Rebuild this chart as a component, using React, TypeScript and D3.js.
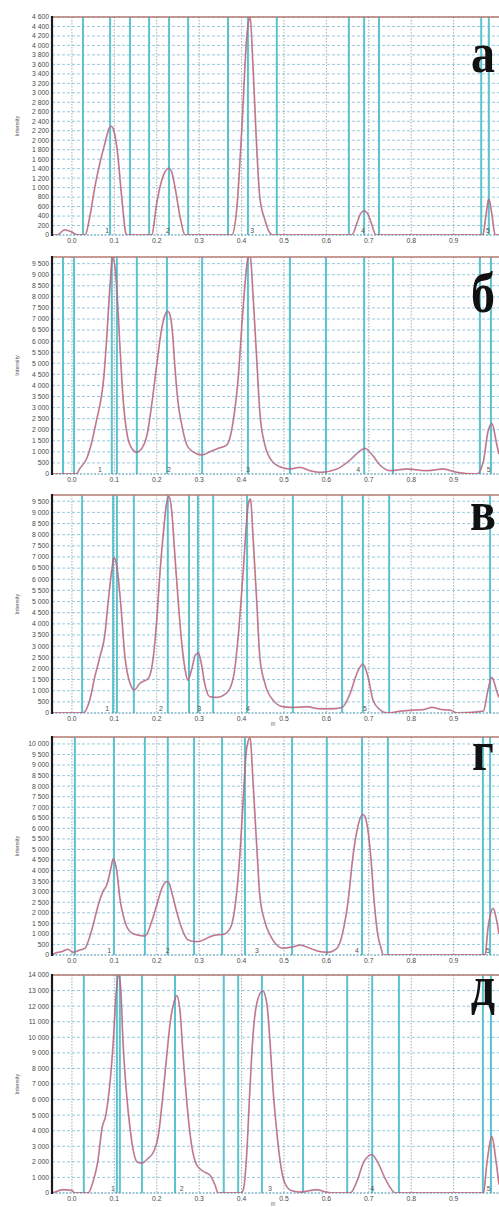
import React, { useEffect, useRef } from "react";
import * as d3 from "d3";

const WIDTH = 499;
const HEIGHT = 1207;

// Rf tick labels along the bottom of every panel
const rfTicks = [0, 0.1, 0.2, 0.3, 0.4, 0.5, 0.6, 0.7, 0.8, 0.9];
const panelLetters = ["а", "б", "в", "г", "д"];

// intensity axes
const yMaxes = [4600, 9800, 9780, 10330, 14000];
const yTickMax = [4600, 9500, 9500, 10000, 14000];
const yTickStep = [200, 500, 500, 500, 1000];

// densitogram traces, [Rf, intensity]
const curveA: [number, number][] = [
  [-0.047, 0], [-0.035, 0], [-0.017, 110], [0.0, 60], [0.014, 0], [0.031, 0],
  [0.042, 380], [0.054, 1010], [0.066, 1520], [0.078, 1940], [0.085, 2180],
  [0.089, 2270], [0.093, 2290], [0.097, 2250], [0.101, 2120], [0.106, 1850],
  [0.118, 740], [0.127, 40], [0.13, 0], [0.188, 0], [0.2, 675], [0.212, 1160],
  [0.222, 1370], [0.228, 1410], [0.234, 1360], [0.243, 1010], [0.255, 380],
  [0.267, 0], [0.377, 0], [0.389, 590], [0.4, 2150], [0.413, 4260], [0.42, 4600],
  [0.427, 3550], [0.436, 1790], [0.443, 800], [0.455, 320], [0.467, 40],
  [0.474, 0], [0.66, 0], [0.672, 250], [0.68, 440], [0.689, 510], [0.698, 440],
  [0.706, 250], [0.717, 0], [0.969, 0], [0.976, 400], [0.983, 760], [0.99, 450],
  [0.998, 0], [1.007, 0],
];

const curveB: [number, number][] = [
  [-0.047, 0], [0.01, 0], [0.019, 258], [0.035, 710], [0.047, 1460], [0.059, 2510],
  [0.066, 3120], [0.075, 4330], [0.082, 6140], [0.09, 8550], [0.096, 9800],
  [0.104, 8860], [0.113, 5830], [0.12, 3570], [0.129, 1910], [0.141, 1160],
  [0.153, 980], [0.165, 1160], [0.177, 1760], [0.188, 3120], [0.2, 4930],
  [0.212, 6600], [0.221, 7250], [0.226, 7340], [0.231, 7200], [0.237, 6400],
  [0.243, 4790], [0.25, 3270], [0.259, 2220], [0.271, 1310], [0.285, 1010],
  [0.306, 860], [0.326, 1010], [0.345, 1160], [0.365, 1310], [0.38, 2360],
  [0.392, 4330], [0.403, 7340], [0.415, 9740], [0.42, 9900], [0.427, 8100],
  [0.436, 5080], [0.443, 2820], [0.455, 1310], [0.467, 710], [0.49, 330],
  [0.514, 226], [0.538, 300], [0.561, 150], [0.585, 75], [0.625, 226],
  [0.656, 635], [0.679, 1040], [0.691, 1160], [0.708, 860], [0.726, 410],
  [0.75, 150], [0.79, 226], [0.837, 150], [0.875, 226], [0.908, 75], [0.955, 0],
  [0.97, 560], [0.981, 1910], [0.99, 2280], [1.002, 1310], [1.007, 900],
];

const curveC: [number, number][] = [
  [-0.047, 0], [0.026, 0], [0.042, 580], [0.054, 1630], [0.066, 2520], [0.078, 3570],
  [0.085, 4910], [0.094, 6400], [0.099, 6970], [0.106, 6560], [0.115, 4910],
  [0.125, 2520], [0.137, 1330], [0.147, 1030], [0.16, 1330], [0.18, 1550],
  [0.192, 2520], [0.2, 4170], [0.208, 6400], [0.217, 8350], [0.223, 9390],
  [0.229, 9720], [0.235, 9100], [0.243, 7000], [0.251, 4910], [0.259, 3120],
  [0.267, 1930], [0.273, 1480], [0.282, 1930], [0.291, 2600], [0.298, 2700],
  [0.305, 2230], [0.313, 1330], [0.325, 730], [0.341, 700], [0.365, 900],
  [0.381, 1630], [0.392, 3420], [0.404, 6400], [0.416, 9390], [0.421, 9600],
  [0.427, 7900], [0.436, 4910], [0.443, 2520], [0.455, 1330], [0.474, 580],
  [0.498, 280], [0.521, 250], [0.554, 280], [0.585, 190], [0.616, 190],
  [0.637, 250], [0.656, 880], [0.672, 1780], [0.686, 2190], [0.698, 1630],
  [0.71, 580], [0.726, 150], [0.743, 0], [0.774, 80], [0.804, 130], [0.828, 150],
  [0.849, 250], [0.873, 150], [0.892, 130], [0.908, 0], [0.97, 80], [0.981, 1030],
  [0.99, 1600], [1.002, 960], [1.007, 700],
];

const curveD: [number, number][] = [
  [-0.047, 0], [-0.04, 80], [-0.024, 160], [-0.009, 270], [0.002, 130], [0.019, 240],
  [0.031, 320], [0.038, 630], [0.05, 1420], [0.061, 2290], [0.073, 3000],
  [0.082, 3320], [0.092, 4110], [0.097, 4550], [0.106, 3950], [0.113, 2690],
  [0.125, 1580], [0.137, 1110], [0.153, 950], [0.172, 900], [0.188, 1580],
  [0.2, 2370], [0.212, 3160], [0.219, 3420], [0.224, 3480], [0.229, 3400],
  [0.235, 3000], [0.247, 2050], [0.259, 1260], [0.274, 710], [0.294, 630],
  [0.31, 710], [0.326, 870], [0.341, 950], [0.357, 980], [0.373, 1260],
  [0.384, 2210], [0.396, 4740], [0.404, 7420], [0.412, 9790], [0.42, 10300],
  [0.427, 8210], [0.436, 5060], [0.443, 2840], [0.455, 1580], [0.467, 950],
  [0.483, 470], [0.498, 320], [0.521, 390], [0.538, 470], [0.561, 320],
  [0.585, 160], [0.604, 130], [0.625, 320], [0.639, 1110], [0.651, 2530],
  [0.663, 4740], [0.675, 6160], [0.682, 6580], [0.686, 6660], [0.691, 6560],
  [0.696, 6160], [0.705, 4580], [0.712, 2690], [0.72, 1110], [0.729, 320],
  [0.734, 0], [0.974, 0], [0.981, 1260], [0.993, 2210], [1.002, 1580], [1.007, 1000],
];

const curveE: [number, number][] = [
  [-0.047, 0], [-0.04, 60], [-0.021, 210], [0.0, 170], [0.007, 0], [0.038, 0],
  [0.05, 750], [0.061, 2030], [0.071, 4170], [0.08, 5020], [0.09, 7160],
  [0.097, 9510], [0.104, 12720], [0.11, 13960], [0.115, 13150], [0.12, 9940],
  [0.129, 6310], [0.137, 4170], [0.145, 2670], [0.154, 1990], [0.165, 1920],
  [0.18, 2240], [0.193, 2670], [0.204, 3740], [0.213, 5880], [0.223, 8660],
  [0.232, 11010], [0.241, 12290], [0.247, 12680], [0.255, 11650], [0.262, 8870],
  [0.27, 6100], [0.282, 3100], [0.294, 1810], [0.31, 1390], [0.326, 1130],
  [0.337, 540], [0.345, 0], [0.398, 0], [0.404, 200], [0.412, 2460], [0.419, 6310],
  [0.427, 10150], [0.439, 12510], [0.45, 12980], [0.46, 12080], [0.467, 9730],
  [0.474, 6730], [0.483, 3950], [0.491, 2030], [0.502, 640], [0.518, 150],
  [0.538, 60], [0.577, 210], [0.6, 60], [0.616, 0], [0.656, 0], [0.672, 750],
  [0.687, 1920], [0.707, 2460], [0.722, 1920], [0.738, 960], [0.754, 210],
  [0.762, 0], [0.97, 0], [0.979, 2030], [0.99, 3630], [1.0, 2030], [1.007, 540],
];

// zone boundaries / peak marks (teal verticals), Rf
const zonesA = [0.026, 0.09, 0.137, 0.182, 0.229, 0.274, 0.368, 0.415, 0.483, 0.653, 0.689, 0.724, 0.965, 0.983];
const zonesB = [-0.021, 0.005, 0.094, 0.106, 0.153, 0.224, 0.307, 0.415, 0.514, 0.599, 0.689, 0.757, 0.962, 0.988];
const zonesC = [0.024, 0.097, 0.106, 0.146, 0.226, 0.276, 0.297, 0.333, 0.413, 0.521, 0.637, 0.686, 0.748, 0.986];
const zonesD = [0.007, 0.099, 0.172, 0.226, 0.288, 0.354, 0.408, 0.519, 0.601, 0.684, 0.745, 0.969, 0.986];
const zonesE = [0.028, 0.106, 0.113, 0.165, 0.243, 0.358, 0.392, 0.448, 0.545, 0.649, 0.708, 0.771, 0.969, 0.988];

// Rf where the spot numbers 1..5 sit
const peaksA = [0.083, 0.226, 0.425, 0.686, 0.981];
const peaksB = [0.066, 0.229, 0.415, 0.675, 0.983];
const peaksC = [0.083, 0.21, 0.3, 0.415, 0.691];
const peaksD = [0.088, 0.226, 0.436, 0.672, 0.981];
const peaksE = [0.097, 0.259, 0.467, 0.708, 0.983];

const curves = [curveA, curveB, curveC, curveD, curveE];
const zones = [zonesA, zonesB, zonesC, zonesD, zonesE];
const peaks = [peaksA, peaksB, peaksC, peaksD, peaksE];

// layout
const tops = [17, 257, 495, 737, 975];
const bottoms = [235, 474, 713, 955, 1193];
const letterBase = [72, 312, 530, 770, 1005];
const showRf = [false, false, true, false, true];
const LEFT = 52;

export default function App() {
  const ref = useRef<SVGSVGElement>(null);

  useEffect(() => {
    const svg = d3.select(ref.current);
    svg.selectAll("*").remove();

    const x = d3.scaleLinear().domain([-0.047, 1.007]).range([LEFT, WIDTH]);
    const fmt = d3
      .formatLocale({ decimal: ".", thousands: " ", grouping: [3], currency: ["", ""] })
      .format(",d");
    const font = "Liberation Sans, Arial, sans-serif";

    curves.forEach((data, i) => {
      const top = tops[i];
      const bottom = bottoms[i];
      const y = d3.scaleLinear().domain([0, yMaxes[i]]).range([bottom, top]);
      const g = svg.append("g");

      g.append("clipPath")
        .attr("id", "clip" + i)
        .append("rect")
        .attr("x", LEFT)
        .attr("y", top)
        .attr("width", WIDTH - LEFT)
        .attr("height", bottom - top);

      const yTicks = d3.range(0, yTickMax[i] + 1, yTickStep[i]);

      // horizontal dashed grid
      g.append("g")
        .selectAll("line")
        .data(yTicks.slice(1))
        .join("line")
        .attr("x1", LEFT)
        .attr("x2", WIDTH)
        .attr("y1", (d) => y(d))
        .attr("y2", (d) => y(d))
        .attr("stroke", "#7dbcd6")
        .attr("stroke-width", 0.8)
        .attr("stroke-dasharray", "3,2");

      // vertical dotted grid at Rf ticks
      g.append("g")
        .selectAll("line")
        .data(rfTicks)
        .join("line")
        .attr("x1", (d) => x(d))
        .attr("x2", (d) => x(d))
        .attr("y1", top)
        .attr("y2", bottom)
        .attr("stroke", "#8a9aa8")
        .attr("stroke-width", 0.8)
        .attr("stroke-dasharray", "1.5,1.5");

      // zone lines
      g.append("g")
        .selectAll("line")
        .data(zones[i])
        .join("line")
        .attr("x1", (d) => x(d))
        .attr("x2", (d) => x(d))
        .attr("y1", top)
        .attr("y2", bottom)
        .attr("stroke", "#5cc3ce")
        .attr("stroke-width", 2);

      // bottom axis line
      g.append("line")
        .attr("x1", LEFT)
        .attr("x2", WIDTH)
        .attr("y1", bottom)
        .attr("y2", bottom)
        .attr("stroke", "#3a8fa8")
        .attr("stroke-width", 1)
        .attr("stroke-dasharray", "2,1.5");

      const line = d3
        .line<[number, number]>()
        .x((d) => x(d[0]))
        .y((d) => y(d[1]))
        .curve(d3.curveMonotoneX);

      const cg = g.append("g").attr("clip-path", `url(#clip${i})`);
      cg.append("path")
        .attr("d", line(data))
        .attr("fill", "none")
        .attr("stroke", "#7a7ab8")
        .attr("stroke-width", 1.8)
        .attr("stroke-opacity", 0.6);
      cg.append("path")
        .attr("d", line(data))
        .attr("fill", "none")
        .attr("stroke", "#e25a5c")
        .attr("stroke-width", 0.9);

      // frame: top border and left axis
      g.append("line")
        .attr("x1", LEFT)
        .attr("x2", WIDTH)
        .attr("y1", top)
        .attr("y2", top)
        .attr("stroke", "#b57a72")
        .attr("stroke-width", 1.5);
      g.append("line")
        .attr("x1", LEFT)
        .attr("x2", LEFT)
        .attr("y1", top - 1)
        .attr("y2", bottom + 1)
        .attr("stroke", "#1a1a1a")
        .attr("stroke-width", 2.2);

      // y labels
      g.append("g")
        .selectAll("text")
        .data(yTicks)
        .join("text")
        .attr("x", LEFT - 3)
        .attr("y", (d) => y(d))
        .attr("dy", "0.35em")
        .attr("text-anchor", "end")
        .attr("font-family", font)
        .attr("font-size", 6.8)
        .attr("fill", "#4a4a4a")
        .text((d) => fmt(d));

      // x labels
      g.append("g")
        .selectAll("text")
        .data(rfTicks)
        .join("text")
        .attr("x", (d) => x(d))
        .attr("y", bottom + 8)
        .attr("text-anchor", "middle")
        .attr("font-family", font)
        .attr("font-size", 6.8)
        .attr("fill", "#4a4a4a")
        .text((d) => d.toFixed(1));

      if (showRf[i]) {
        g.append("text")
          .attr("x", 273)
          .attr("y", bottom + 13)
          .attr("text-anchor", "middle")
          .attr("font-family", font)
          .attr("font-size", 4.5)
          .attr("fill", "#777")
          .text("Rf");
      }

      // spot numbers
      g.append("g")
        .selectAll("text")
        .data(peaks[i])
        .join("text")
        .attr("x", (d) => x(d))
        .attr("y", bottom - 2)
        .attr("text-anchor", "middle")
        .attr("font-family", font)
        .attr("font-size", 7)
        .attr("fill", "#555")
        .text((_, k) => String(k + 1));

      // axis title
      g.append("text")
        .attr("transform", `translate(19,${(top + bottom) / 2}) rotate(-90)`)
        .attr("text-anchor", "middle")
        .attr("font-family", font)
        .attr("font-size", 5.5)
        .attr("fill", "#555")
        .text("Intensity");

      // panel letter
      g.append("text")
        .attr("transform", `translate(483,${letterBase[i]}) scale(1,1.2)`)
        .attr("text-anchor", "middle")
        .attr("font-family", "Liberation Serif, Times New Roman, serif")
        .attr("font-weight", "bold")
        .attr("font-size", 48)
        .attr("fill", "#111")
        .text(panelLetters[i]);
    });
  }, []);

  return (
    <svg
      ref={ref}
      width={WIDTH}
      height={HEIGHT}
      style={{ position: "absolute", left: 0, top: 0, background: "#fff" }}
    />
  );
}
